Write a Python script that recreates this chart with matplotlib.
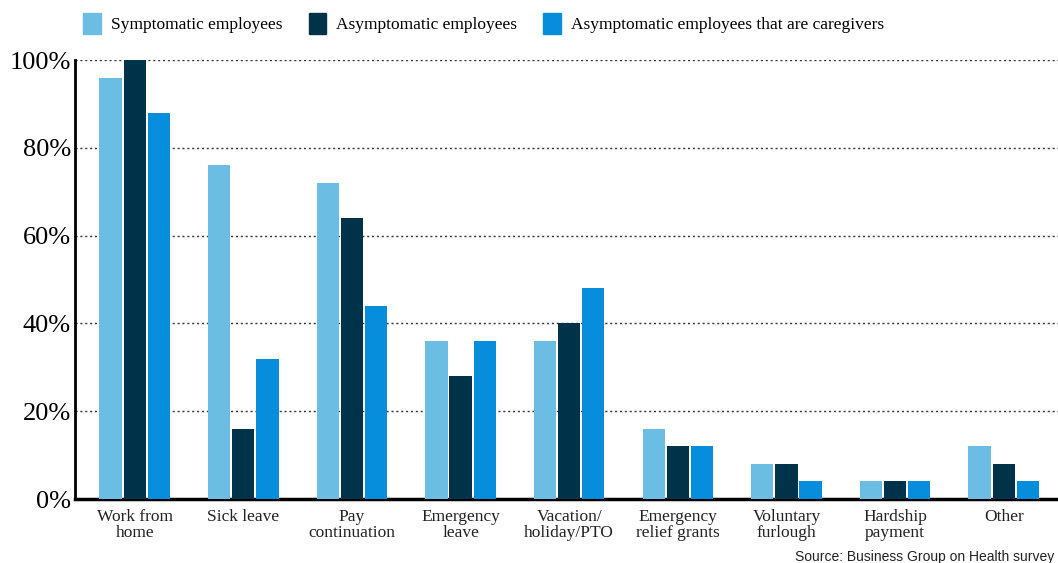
import matplotlib.pyplot as plt
import numpy as np
from matplotlib.patches import Patch

categories = ["Work from\nhome", "Sick leave", "Pay\ncontinuation", "Emergency\nleave",
              "Vacation/\nholiday/PTO", "Emergency\nrelief grants", "Voluntary\nfurlough",
              "Hardship\npayment", "Other"]
symptomatic = [96, 76, 72, 36, 36, 16, 8, 4, 12]
asymptomatic = [100, 16, 64, 28, 40, 12, 8, 4, 8]
caregivers = [88, 32, 44, 36, 48, 12, 4, 4, 4]
series_names = ["Symptomatic employees", "Asymptomatic employees",
                "Asymptomatic employees that are caregivers"]
colors = ["#6bbde3", "#003349", "#068edd"]
yticks = [0, 20, 40, 60, 80, 100]

plt.rcParams['font.family'] = ['Liberation Serif', 'DejaVu Serif']

fig = plt.figure(figsize=(10.58, 5.63), dpi=100)
ax = fig.add_axes([75 / 1058, 1 - 499 / 563, 1 - 75 / 1058, (499 - 60) / 563])

x = np.arange(len(categories))
w = 0.205
step = 0.222
for i, (vals, c) in enumerate(zip([symptomatic, asymptomatic, caregivers], colors)):
    ax.bar(x + (i - 1) * step, vals, width=w, color=c, zorder=3)

ax.set_xlim(-0.55, 8.5)
ax.set_ylim(0, 100)
ax.set_yticks(yticks)
ax.set_yticklabels([f"{v}%" for v in yticks], fontsize=19)
ax.set_xticks(x)
ax.set_xticklabels(categories, fontsize=12.5, color="#222222", linespacing=1.05)
ax.tick_params(axis='both', length=0, pad=3)
ax.tick_params(axis='x', pad=7)

for v in yticks[1:]:
    ax.axhline(v, color="#333333", linestyle=(0, (1.5, 2)), linewidth=1, zorder=1)

for s in ["top", "right"]:
    ax.spines[s].set_visible(False)
ax.spines["left"].set_linewidth(2)
ax.spines["bottom"].set_linewidth(2.5)

handles = [Patch(color=c, label=n) for c, n in zip(colors, series_names)]
fig.legend(handles=handles, loc="upper left", bbox_to_anchor=(0.064, 1.005), ncol=3,
           frameon=False, fontsize=12.5, handlelength=1.0, handleheight=1.5,
           handletextpad=0.6, columnspacing=1.5)

fig.text(1054 / 1058, 1 - 557 / 563, "Source: Business Group on Health survey",
         fontsize=10, family="Liberation Sans", color="#222222", va="center", ha="right")

fig.savefig("out.png", dpi=100)
